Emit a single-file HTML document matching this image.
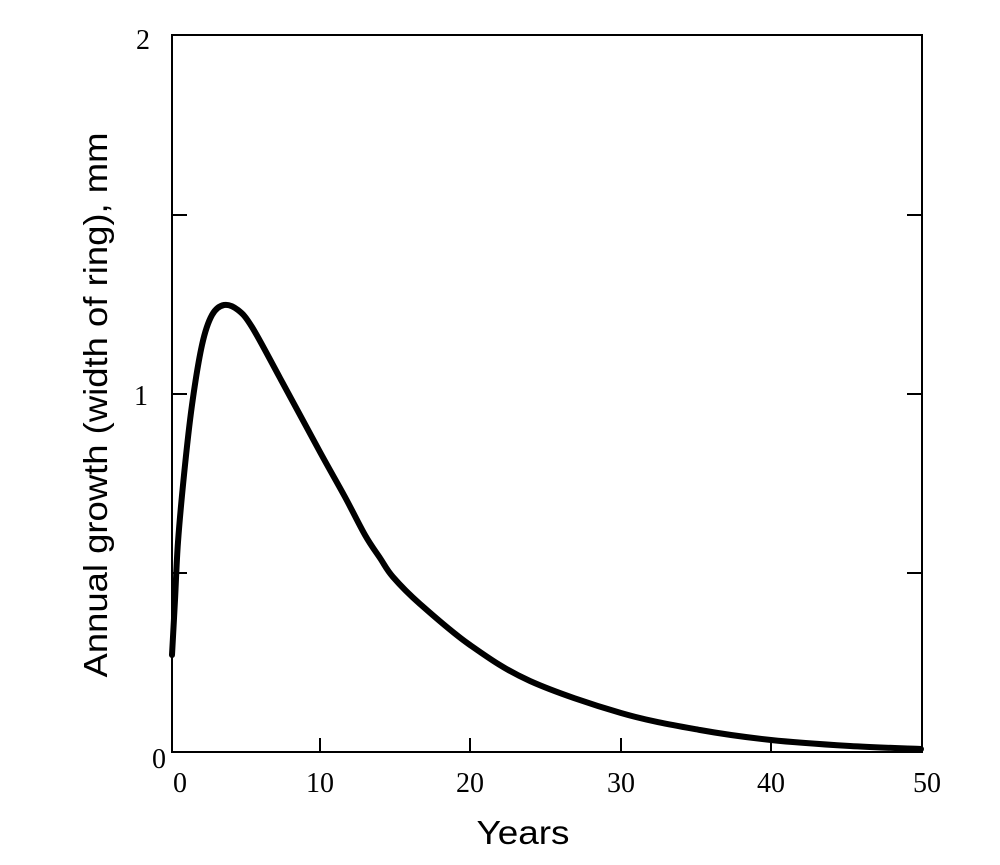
<!DOCTYPE html>
<html><head><meta charset="utf-8"><style>html,body{margin:0;padding:0;background:#fff}</style></head>
<body>
<svg width="1000" height="860" viewBox="0 0 1000 860" xmlns="http://www.w3.org/2000/svg">
<rect x="0" y="0" width="1000" height="860" fill="#fff"/>
<g stroke="#000" stroke-width="2" fill="none">
<rect x="172" y="35" width="750" height="717"/>
<line x1="320" y1="752" x2="320" y2="738"/>
<line x1="470" y1="752" x2="470" y2="738"/>
<line x1="621" y1="752" x2="621" y2="738"/>
<line x1="771" y1="752" x2="771" y2="738"/>
<line x1="172" y1="215" x2="187" y2="215"/>
<line x1="172" y1="394" x2="187" y2="394"/>
<line x1="172" y1="573" x2="187" y2="573"/>
<line x1="922" y1="215" x2="907" y2="215"/>
<line x1="922" y1="394" x2="907" y2="394"/>
<line x1="922" y1="573" x2="907" y2="573"/>
</g>
<path id="curve" d="" stroke="#000" stroke-width="6" fill="none" stroke-linejoin="round" stroke-linecap="round"/>
<g font-family="Liberation Serif, serif" font-size="28" fill="#000">
<text x="136" y="49">2</text>
<text x="134" y="405">1</text>
<text x="152" y="768">0</text>
<text x="180" y="792" text-anchor="middle">0</text>
<text x="320" y="792" text-anchor="middle">10</text>
<text x="470" y="792" text-anchor="middle">20</text>
<text x="621" y="792" text-anchor="middle">30</text>
<text x="771" y="792" text-anchor="middle">40</text>
<text x="927" y="792" text-anchor="middle">50</text>
</g>
<g font-family="Liberation Sans, sans-serif" font-size="33" fill="#000">
<text x="523" y="844" text-anchor="middle" textLength="93" lengthAdjust="spacingAndGlyphs">Years</text>
<text transform="translate(107,405) rotate(-90)" text-anchor="middle" textLength="545" lengthAdjust="spacingAndGlyphs">Annual growth (width of ring),  mm</text>
</g>
</svg>
<script>
var P=[[172,655],[175,600],[178,542],[184,475],[192,405],[202,345],[212,315],[224,305],[238,310],[252,327],[280,378],[320,452],[345,497],[365,535],[380,558],[393,577],[420,604],[470,645],[530,681],[621,713],[700,730],[771,740],[850,746],[921,749]];
var d="M"+P[0][0]+","+P[0][1];
for(var i=0;i<P.length-1;i++){var p0=P[i>0?i-1:0],p1=P[i],p2=P[i+1],p3=P[i+2<P.length?i+2:i+1];
var c1x=p1[0]+(p2[0]-p0[0])/6,c1y=p1[1]+(p2[1]-p0[1])/6,c2x=p2[0]-(p3[0]-p1[0])/6,c2y=p2[1]-(p3[1]-p1[1])/6;
d+=" C"+c1x.toFixed(1)+","+c1y.toFixed(1)+" "+c2x.toFixed(1)+","+c2y.toFixed(1)+" "+p2[0]+","+p2[1];}
document.getElementById("curve").setAttribute("d",d);
</script>
</body></html>
